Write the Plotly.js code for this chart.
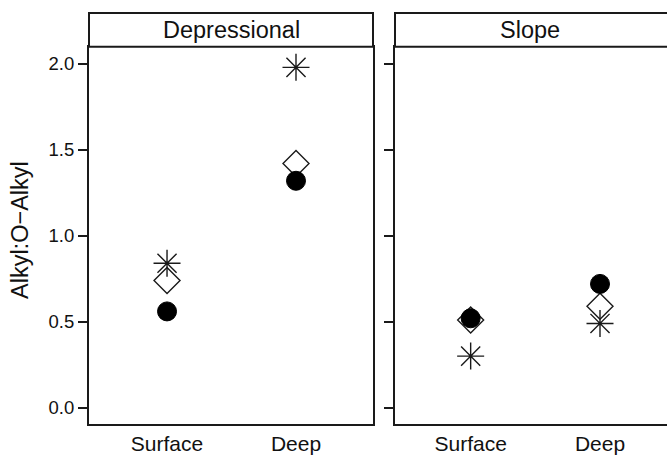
<!DOCTYPE html>
<html>
<head>
<meta charset="utf-8">
<script src="https://cdn.plot.ly/plotly-3.0.1.min.js"></script>
<style>
  html, body { margin: 0; padding: 0; background: #fff; }
  #chart { width: 667px; height: 457px; }
</style>
</head>
<body>
<div id="chart"></div>
<script>
// Sampling depths shown along the x axis of each panel
const depths = ['Surface', 'Deep'];
const panels = ['Depressional', 'Slope'];
const yTickValues = [0, 0.5, 1, 1.5, 2];
const yTickLabels = ['0.0', '0.5', '1.0', '1.5', '2.0'];

// Alkyl:O-Alkyl ratios, one array per marker series and panel
const depressionalStar = [0.84, 1.98];
const depressionalDiamond = [0.74, 1.42];
const depressionalCircle = [0.56, 1.32];

const slopeStar = [0.30, 0.49];
const slopeDiamond = [0.51, 0.59];
const slopeCircle = [0.52, 0.72];

const ink = '#1a1a1a';
const font = 'Liberation Sans, Arial, sans-serif';

function series(y, xa, ya, kind) {
  const m = {
    diamond: { symbol: 'diamond-open', size: 20, color: ink, line: { width: 1.4, color: ink } },
    star: { symbol: 'asterisk-open', size: 22.5, color: ink, line: { width: 1.4, color: ink } },
    circle: { symbol: 'circle', size: 19, color: '#000', line: { width: 1, color: '#000' } }
  }[kind];
  return {
    type: 'scatter', mode: 'markers',
    x: depths, y: y, xaxis: xa, yaxis: ya,
    marker: m, showlegend: false, hoverinfo: 'skip'
  };
}

const data = [
  series(depressionalDiamond, 'x', 'y', 'diamond'),
  series(depressionalStar, 'x', 'y', 'star'),
  series(depressionalCircle, 'x', 'y', 'circle'),
  series(slopeDiamond, 'x2', 'y2', 'diamond'),
  series(slopeStar, 'x2', 'y2', 'star'),
  series(slopeCircle, 'x2', 'y2', 'circle')
];

const W = 667, H = 457;
const px = v => v / W;
const py = v => 1 - v / H;

const plotTop = 46.7, plotBottom = 424, stripTop = 13;
const yDomain = [py(plotBottom), py(plotTop)];
const yRange = [-0.095, 2.10];

const xCommon = {
  type: 'category', categoryorder: 'array', categoryarray: depths,
  showgrid: false, zeroline: false, ticks: '', showline: true,
  linecolor: ink, linewidth: 2, mirror: true,
  tickfont: { family: font, size: 21, color: '#111' }
};
const yCommon = {
  range: yRange, showgrid: false, zeroline: false,
  tickvals: yTickValues, ticktext: yTickLabels,
  ticks: 'outside', ticklen: 9, tickwidth: 2, tickcolor: ink,
  showline: true, linecolor: ink, linewidth: 2,
  tickfont: { family: font, size: 18.5, color: '#111' }
};

const layout = {
  width: W, height: H,
  margin: { l: 0, r: 0, t: 0, b: 0 },
  paper_bgcolor: '#fff', plot_bgcolor: '#fff',
  xaxis: Object.assign({}, xCommon, { domain: [px(89), px(373)], range: [-0.605, 1.597], anchor: 'y' }),
  xaxis2: Object.assign({}, xCommon, { domain: [px(395), 1], range: [-0.585, 1.518], anchor: 'y2' }),
  yaxis: Object.assign({}, yCommon, { domain: yDomain, anchor: 'x', mirror: true }),
  yaxis2: Object.assign({}, yCommon, { domain: yDomain, anchor: 'x2', showticklabels: false, mirror: false }),
  shapes: [
    { type: 'rect', xref: 'paper', yref: 'paper', x0: px(89), x1: px(373), y0: py(plotTop), y1: py(stripTop),
      line: { color: ink, width: 2 }, fillcolor: '#fff' },
    { type: 'rect', xref: 'paper', yref: 'paper', x0: px(395), x1: 1.02, y0: py(plotTop), y1: py(stripTop),
      line: { color: ink, width: 2 }, fillcolor: '#fff' }
  ],
  annotations: [
    { text: panels[0], xref: 'paper', yref: 'paper', x: px(231), y: py(29.5), showarrow: false,
      xanchor: 'center', yanchor: 'middle', font: { family: font, size: 23.5, color: '#111' } },
    { text: panels[1], xref: 'paper', yref: 'paper', x: px(530), y: py(29.5), showarrow: false,
      xanchor: 'center', yanchor: 'middle', font: { family: font, size: 23.5, color: '#111' } },
    { text: 'Alkyl:O\u2212Alkyl', xref: 'paper', yref: 'paper', x: px(20), y: py(230), showarrow: false,
      textangle: -90, xanchor: 'center', yanchor: 'middle', font: { family: font, size: 23.5, color: '#111' } }
  ]
};

Plotly.newPlot('chart', data, layout, { staticPlot: true, displayModeBar: false });
</script>
</body>
</html>
